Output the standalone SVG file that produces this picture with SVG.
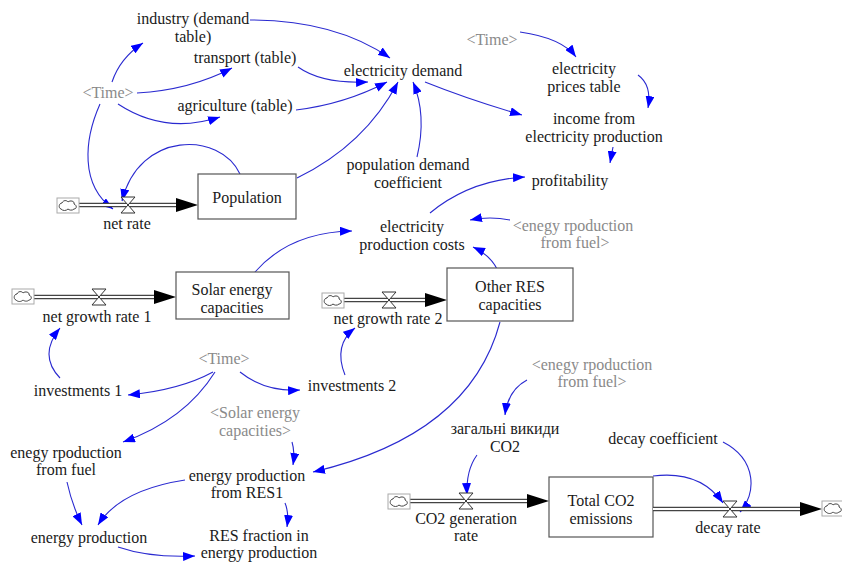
<svg xmlns="http://www.w3.org/2000/svg" xmlns:xlink="http://www.w3.org/1999/xlink" width="842" height="563" viewBox="0 0 842 563" font-family="'Liberation Serif', 'DejaVu Serif', 'Times New Roman', serif">
<style>
text{font-family:'Liberation Serif','Times New Roman',Times,serif;font-size:16px;fill:#1a1a1a;text-anchor:middle}
text.sh{fill:#8a8a8a}
.lnk{fill:none;stroke:#2a2ad0;stroke-width:1.1;marker-end:url(#ah)}
.stock{fill:#fff;stroke:#555;stroke-width:1.2}
.pipeo{fill:none;stroke:#444;stroke-width:4.6}
.pipei{fill:none;stroke:#fff;stroke-width:2.2}
.valve{fill:#fff;stroke:#333;stroke-width:1}
.cloudbox{fill:#fff;stroke:#aaa;stroke-width:1}
.cloud{fill:#fff;stroke:#444;stroke-width:1}
</style>
<defs>
<marker id="ah" markerUnits="userSpaceOnUse" markerWidth="13" markerHeight="9" refX="12" refY="4.5" orient="auto">
<path d="M0,0 L12,4.5 L0,9 Z" fill="#0000ff"/>
</marker>
<g id="valve"><path class="valve" d="M-7,-8 L7,-8 L-7,8 L7,8 Z"/></g>
<g id="cloud"><rect class="cloudbox" x="0" y="0" width="22" height="15"/><path class="cloud" d="M4,11 C1,10 2,5 5,5 C6,2 10,2 11,4 C13,2 18,3 17,6 C20,7 20,11 17,11 C15,13 12,12 11,11 C9,13 6,13 4,11 Z"/></g>
<g id="flowhead"><path d="M-22,-7 L0,0 L-22,7 Z" fill="#000"/></g>
</defs>
<rect width="842" height="563" fill="#fff"/>

<g id="connectors">
<path class="lnk" d="M112,82 Q120,58 143,43"/>
<path class="lnk" d="M137,93 Q190,90 232,68"/>
<path class="lnk" d="M118,104 Q165,135 220,117"/>
<path class="lnk" d="M100,104 C84,140 80,185 113,209"/>
<path class="lnk" d="M240,174 C220,131 139,131 122,201"/>
<path class="lnk" d="M250,20 Q335,20 390,58"/>
<path class="lnk" d="M298,67 Q322,84 368,82"/>
<path class="lnk" d="M296,110 Q345,104 387,82"/>
<path class="lnk" d="M297,178 Q365,145 398,82"/>
<path class="lnk" d="M417,157 Q427,115 413,82"/>
<path class="lnk" d="M425,82 Q470,100 522,115"/>
<path class="lnk" d="M520,32 Q562,38 576,57"/>
<path class="lnk" d="M638,75 Q652,85 648,108"/>
<path class="lnk" d="M613,147 L610,163"/>
<path class="lnk" d="M430,213 Q470,180 525,177"/>
<path class="lnk" d="M510,220 Q490,216 470,220"/>
<path class="lnk" d="M255,272 Q290,232 352,231"/>
<path class="lnk" d="M497,269 Q490,255 473,247"/>
<path class="lnk" d="M60,378 Q38,355 60,328"/>
<path class="lnk" d="M213,372 Q180,390 128,395"/>
<path class="lnk" d="M240,372 Q265,392 300,390"/>
<path class="lnk" d="M215,372 Q185,420 123,442"/>
<path class="lnk" d="M345,375 Q333,345 355,328"/>
<path class="lnk" d="M500,322 Q470,435 313,472"/>
<path class="lnk" d="M292,442 Q295,452 293,465"/>
<path class="lnk" d="M527,380 Q508,390 505,415"/>
<path class="lnk" d="M477,455 Q466,470 467,495"/>
<path class="lnk" d="M723,442 C758,460 756,495 740,512"/>
<path class="lnk" d="M653,476 Q700,470 723,503"/>
<path class="lnk" d="M67,482 Q72,505 82,525"/>
<path class="lnk" d="M185,480 Q120,490 98,525"/>
<path class="lnk" d="M285,503 Q289,512 287,527"/>
<path class="lnk" d="M118,547 Q150,558 195,556"/>
</g>

<g id="flow-net-rate">
<path class="pipeo" d="M79,205 H178"/><path class="pipei" d="M79,205 H178"/>
<use xlink:href="#flowhead" x="198" y="205"/>
<use xlink:href="#cloud" x="57" y="198"/>
<use xlink:href="#valve" x="128" y="205"/>
<text x="127" y="229">net rate</text>
</g>
<g id="population">
<rect class="stock" x="198" y="174" width="98" height="45"/>
<text x="247" y="203">Population</text>
</g>

<g id="flow-net-growth-rate-1">
<path class="pipeo" d="M33,297 H156"/><path class="pipei" d="M33,297 H156"/>
<use xlink:href="#flowhead" x="176" y="297"/>
<use xlink:href="#cloud" x="12" y="289"/>
<use xlink:href="#valve" x="99" y="297"/>
<text x="97" y="322">net growth rate 1</text>
</g>
<g id="solar">
<rect class="stock" x="176" y="272" width="113" height="47"/>
<text x="232" y="295">Solar energy</text>
<text x="232" y="313">capacities</text>
</g>

<g id="flow-net-growth-rate-2">
<path class="pipeo" d="M344,300 H427"/><path class="pipei" d="M344,300 H427"/>
<use xlink:href="#flowhead" x="447" y="300"/>
<use xlink:href="#cloud" x="322" y="293"/>
<use xlink:href="#valve" x="389" y="300"/>
<text x="388" y="324">net growth rate 2</text>
</g>
<g id="other-res">
<rect class="stock" x="447" y="268" width="126" height="53"/>
<text x="510" y="292">Other RES</text>
<text x="510" y="310">capacities</text>
</g>

<g id="flow-co2-generation">
<path class="pipeo" d="M410,501 H529"/><path class="pipei" d="M410,501 H529"/>
<use xlink:href="#flowhead" x="549" y="501"/>
<use xlink:href="#cloud" x="388" y="494"/>
<use xlink:href="#valve" x="466" y="501"/>
<text x="466" y="524">CO2 generation</text>
<text x="466" y="541">rate</text>
</g>
<g id="total-co2">
<rect class="stock" x="549" y="477" width="104" height="60"/>
<text x="601" y="506">Total CO2</text>
<text x="601" y="524">emissions</text>
</g>
<g id="flow-decay">
<path class="pipeo" d="M653,509 H802"/><path class="pipei" d="M653,509 H802"/>
<use xlink:href="#flowhead" x="822" y="509"/>
<use xlink:href="#cloud" x="822" y="501"/>
<use xlink:href="#valve" x="730" y="509"/>
<text x="728" y="533">decay rate</text>
</g>

<g id="industry"><text x="193" y="24">industry (demand</text><text x="193" y="42">table)</text></g>
<g id="transport"><text x="245" y="63">transport (table)</text></g>
<g id="time-1"><text class="sh" x="108" y="98">&lt;Time&gt;</text></g>
<g id="agriculture"><text x="235" y="111">agriculture (table)</text></g>
<g id="electricity-demand"><text x="403" y="76">electricity demand</text></g>
<g id="population-demand-coefficient"><text x="408" y="170">population demand</text><text x="408" y="188">coefficient</text></g>
<g id="time-2"><text class="sh" x="492" y="45">&lt;Time&gt;</text></g>
<g id="electricity-prices-table"><text x="584" y="74">electricity</text><text x="584" y="92">prices table</text></g>
<g id="income"><text x="594" y="124">income from</text><text x="594" y="142">electricity production</text></g>
<g id="profitability"><text x="570" y="186">profitability</text></g>
<g id="electricity-production-costs"><text x="412" y="232">electricity</text><text x="412" y="250">production costs</text></g>
<g id="fuel-shadow-1"><text class="sh" x="573" y="231">&lt;enegy rpoduction</text><text class="sh" x="575" y="248">from fuel&gt;</text></g>
<g id="investments-1"><text x="78" y="396">investments 1</text></g>
<g id="time-3"><text class="sh" x="224" y="364">&lt;Time&gt;</text></g>
<g id="investments-2"><text x="352" y="391">investments 2</text></g>
<g id="fuel-shadow-2"><text class="sh" x="592" y="370">&lt;enegy rpoduction</text><text class="sh" x="592" y="387">from fuel&gt;</text></g>
<g id="solar-shadow"><text class="sh" x="255" y="418">&lt;Solar energy</text><text class="sh" x="255" y="436">capacities&gt;</text></g>
<g id="energy-production-fuel"><text x="66" y="458">enegy rpoduction</text><text x="66" y="475">from fuel</text></g>
<g id="energy-production-res1"><text x="247" y="481">energy production</text><text x="247" y="498">from RES1</text></g>
<g id="energy-production"><text x="89" y="543">energy production</text></g>
<g id="res-fraction"><text x="259" y="541">RES fraction in</text><text x="259" y="558">energy production</text></g>
<g id="total-co2-emissions-ua"><text x="505" y="434">загальні викиди</text><text x="505" y="452">CO2</text></g>
<g id="decay-coefficient"><text x="663" y="444">decay coefficient</text></g>
</svg>
